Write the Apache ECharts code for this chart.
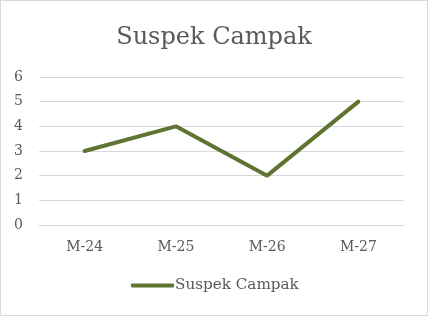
<!DOCTYPE html>
<html><head><meta charset="utf-8">
<script src="https://cdn.jsdelivr.net/npm/echarts@6/dist/echarts.min.js"></script>
<style>html,body{margin:0;padding:0;background:#fff}#c{width:428px;height:316px;box-sizing:border-box;border:1px solid #d9d9d9}</style>
</head><body><div id="c"></div>
<script>
const categories = ['M-24', 'M-25', 'M-26', 'M-27'];
const seriesName = 'Suspek Campak';
const values = [3, 4, 2, 5];
const yTicks = [0, 1, 2, 3, 4, 5, 6];
const font = 'DejaVu Serif';
const chart = echarts.init(document.getElementById('c'));
chart.setOption({
  animation: false,
  title: { text: 'Suspek Campak', left: 'center', top: 20, textStyle: { fontFamily: font, fontSize: 24, fontWeight: 'normal', color: '#595959' } },
  legend: { bottom: 22, left: 130, padding: 0, itemWidth: 43, itemHeight: 4, itemGap: 4, icon: 'roundRect',
    textStyle: { fontFamily: font, fontSize: 15.2, color: '#595959', padding: [0,0,0,-4] }, data: [seriesName] },
  grid: { left: 38, right: 23, top: 76, bottom: 90, containLabel: false },
  xAxis: { type: 'category', data: categories, axisLine: { lineStyle: { color: '#d9d9d9', width: 1 } }, axisTick: { show: false },
    axisLabel: { fontFamily: font, fontSize: 14, color: '#595959', margin: 15 } },
  yAxis: { type: 'value', min: yTicks[0], max: yTicks[yTicks.length-1], interval: 1,
    axisLine: { show: false }, axisTick: { show: false },
    splitLine: { lineStyle: { color: '#d9d9d9', width: 1 } },
    axisLabel: { fontFamily: font, fontSize: 14, color: '#595959', margin: 16 } },
  series: [{ name: seriesName, type: 'line', data: values, symbol: 'none',
    lineStyle: { color: '#5e7430', width: 4, cap: 'round' }, itemStyle: { color: '#5e7430' } }]
});
</script></body></html>
